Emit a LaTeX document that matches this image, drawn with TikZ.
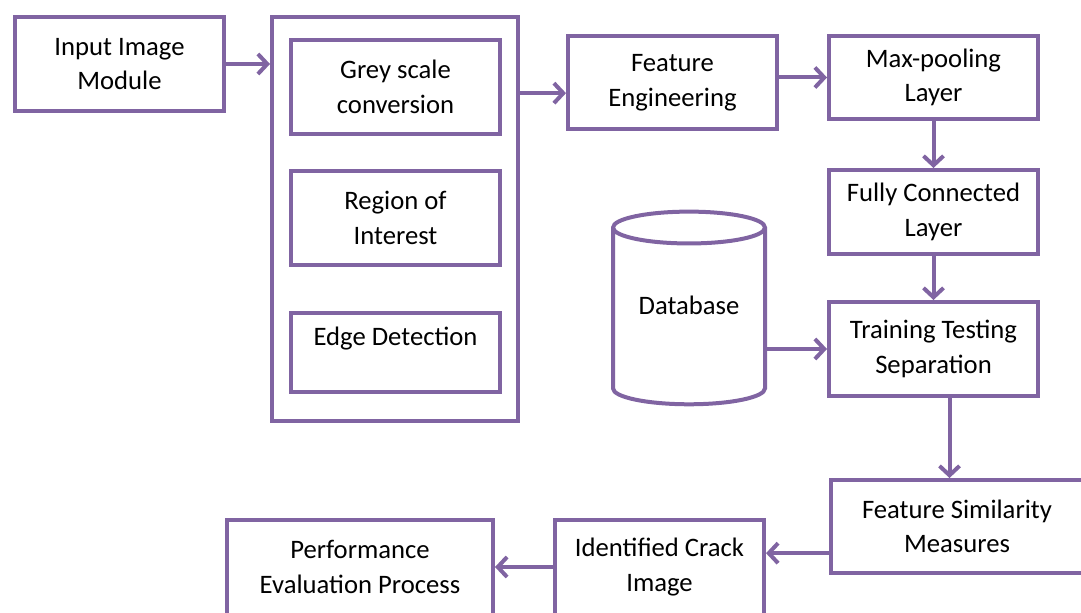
\documentclass[tikz,border=0pt]{standalone}
\usepackage{fontspec}
\setmainfont{Carlito}
\usetikzlibrary{arrows.meta,shapes.geometric}
\definecolor{boxpurple}{HTML}{8064A2}
\tikzset{
  blk/.style={draw=boxpurple,line width=3pt,fill=white,align=center,
    minimum width=156.75pt,minimum height=70.5pt,inner sep=2pt,
    font=\fontsize{20}{26}\selectfont},
  flow/.style={draw=boxpurple,line width=3pt,->}
}

\begin{document}
\begin{tikzpicture}[line join=miter,>={Straight Barb[length=7pt,width=15pt]},x=0.75pt,y=-0.75pt]
			\useasboundingbox (0,0) rectangle (1081,613);
			\clip (0,0) rectangle (1081,613);
			% left column
			\node [blk] (in) at (119.5,64) {Input Image\\Module};
			\node [blk,minimum width=184.5pt,minimum height=303pt] (cont) at (395,219) {};
			\node [blk] (grey) at (395.5,87) {Grey scale\\conversion};
			\node [blk] (roi) at (395.5,218) {Region of\\Interest};
			\node [blk,minimum height=59pt,text depth=24pt] (edge) at (395.5,352.5) {Edge Detection};
			% middle and right
			\node [blk,minimum height=69.75pt] (feat) at (672.5,82.5) {Feature\\Engineering};
			\node [blk,minimum height=62.25pt] (pool) at (933.5,77.5) {Max-pooling\\Layer};
			\node [blk,minimum height=63pt] (fc) at (933.5,212) {Fully Connected\\Layer};
			\node [blk] (tts) at (933.5,349) {Training Testing\\Separation};
			\node [blk,cylinder,shape border rotate=90,aspect=0.3,text depth=20pt,
			       minimum width=114pt,minimum height=144.5pt] (db) at (689,319) {Database};
			% bottom row
			\node [blk,minimum width=189pt,minimum height=69.75pt] (fsm) at (957,526.5) {Feature Similarity\\Measures};
			\node [blk,minimum height=71.25pt] (ici) at (659.5,567) {Identified Crack\\Image};
			\node [blk,minimum width=199.5pt,minimum height=71.25pt] (pep) at (360,567) {Performance\\Evaluation Process};
			% connectors
			\draw [flow] (in.east) -- (in.east -| cont.west);
			\draw [flow] ([yshift=-8pt]feat.west -| cont.east) -- ([yshift=-8pt]feat.west);
			\draw [flow] (feat.east |- pool) -- (pool.west);
			\draw [flow] (pool.south) -- (fc.north);
			\draw [flow] (fc.south) -- (tts.north);
			\draw [flow] (tts -| db.east) -- (tts.west);
			\draw [flow] ([xshift=12pt]tts.south) -- ([xshift=12pt]tts.south |- fsm.north);
			\draw [flow] ([yshift=-20pt]fsm.west) -- ([yshift=-20pt]fsm.west -| ici.east);
			\draw [flow] (ici.west) -- (ici.west -| pep.east);
		\end{tikzpicture}
\end{document}
